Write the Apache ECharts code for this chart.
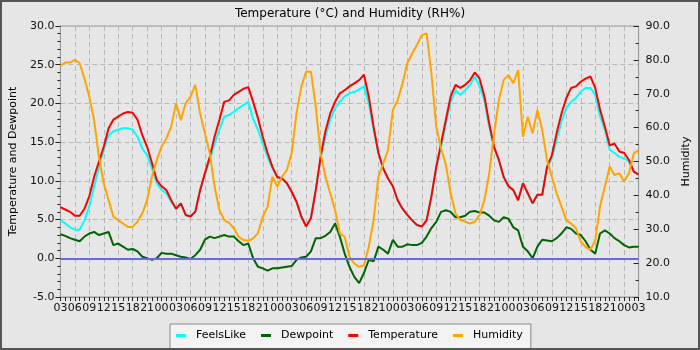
<!DOCTYPE html>
<html>
<head>
<meta charset="utf-8">
<script src="https://cdn.jsdelivr.net/npm/echarts@6/dist/echarts.min.js"></script>
<style>
html,body{margin:0;padding:0;background:#e6e6e6;}
#c{width:700px;height:350px;}
</style>
</head>
<body>
<div id="c"></div>
<script>
// hours since start (03:00 on day 1), hourly samples
const hours = Array.from({length: 121}, (_, i) => i);

const xLabels = ['03','06','09','12','15','18','21','00',
  '03','06','09','12','15','18','21','00',
  '03','06','09','12','15','18','21','00',
  '03','06','09','12','15','18','21','00',
  '03','06','09','12','15','18','21','00','03'];

const temperature = [
  6.6, 6.3, 6.0, 5.5, 5.5, 6.4, 8.0, 10.5, 12.5, 14.4, 16.8,
  17.9, 18.3, 18.7, 18.9, 18.8, 17.9, 15.9, 14.4, 12.3, 10.1,
  9.3, 8.8, 7.5, 6.4, 7.1, 5.6, 5.4, 6.0, 8.8, 11.0,
  13.1, 15.7, 17.9, 20.2, 20.4, 21.1, 21.5, 21.9, 22.1, 20.2,
  18.1, 15.7, 13.6, 11.8, 10.5, 10.3, 9.7, 8.6, 7.3, 5.4,
  4.1, 5.2, 8.8, 13.1, 16.4, 18.7, 20.2, 21.3, 21.7, 22.2,
  22.6, 23.0, 23.7, 20.9, 17.0, 13.6, 11.6, 10.3, 9.3, 7.5,
  6.4, 5.6, 4.9, 4.3, 4.1, 4.9, 8.0, 11.8, 14.8, 17.9,
  20.9, 22.4, 22.0, 22.4, 23.0, 24.0, 23.2, 20.9, 17.4, 14.4,
  12.7, 10.5, 9.3, 8.8, 7.5, 9.7, 8.4, 7.1, 8.2, 8.2,
  11.8, 13.3, 16.2, 18.7, 20.7, 22.0, 22.2, 22.8, 23.2, 23.5,
  22.0, 19.2, 17.0, 14.6, 14.8, 13.8, 13.6, 12.7, 11.2, 10.8
];

const feelsLike = [
  4.9, 4.5, 4.0, 3.7, 3.7, 4.9, 6.7, 9.3, 11.8, 14.0, 15.9,
  16.4, 16.6, 16.8, 16.8, 16.6, 15.7, 14.2, 13.3, 11.6, 9.7,
  8.8, 8.4, 7.3, 6.4, 7.1, 5.6, 5.4, 6.0, 8.8, 10.8,
  12.7, 14.8, 16.6, 18.3, 18.5, 18.9, 19.4, 19.8, 20.2, 18.0,
  16.6, 14.8, 13.1, 11.6, 10.5, 10.3, 9.7, 8.6, 7.3, 5.4,
  4.1, 5.2, 8.8, 12.9, 15.7, 17.9, 19.4, 20.2, 20.9, 21.3,
  21.5, 21.8, 22.2, 20.0, 16.6, 13.6, 11.6, 10.3, 9.3, 7.5,
  6.4, 5.6, 4.9, 4.3, 4.1, 4.9, 8.0, 11.5, 14.4, 17.4,
  20.2, 21.7, 21.1, 21.7, 22.4, 23.5, 22.2, 20.4, 17.0, 14.2,
  12.7, 10.5, 9.3, 8.8, 7.5, 9.7, 8.4, 7.1, 8.2, 8.2,
  11.8, 12.9, 15.3, 17.7, 19.4, 20.2, 20.7, 21.5, 22.0, 22.0,
  21.1, 18.3, 16.6, 14.0, 13.6, 13.1, 12.9, 12.5, 11.2, 10.8
];

const dewpoint = [
  3.1, 2.9, 2.6, 2.4, 2.2, 2.8, 3.2, 3.4, 3.0, 3.2, 3.4,
  1.7, 1.9, 1.5, 1.1, 1.2, 0.9, 0.2, 0.0, -0.2, 0.0,
  0.7, 0.6, 0.6, 0.4, 0.2, 0.1, -0.1, 0.4, 1.1, 2.4,
  2.8, 2.6, 2.8, 3.0, 2.8, 2.8, 2.2, 1.7, 1.9, 0.0,
  -1.1, -1.3, -1.6, -1.3, -1.3, -1.2, -1.1, -1.0, -0.2, 0.1,
  0.2, 0.9, 2.6, 2.6, 2.9, 3.4, 4.5, 2.8, 0.6, -1.1,
  -2.4, -3.2, -1.9, -0.2, -0.4, 1.5, 1.1, 0.6, 2.4, 1.5,
  1.5, 1.8, 1.7, 1.7, 2.0, 2.8, 3.9, 4.7, 6.0, 6.2,
  6.0, 5.3, 5.3, 5.5, 6.0, 6.1, 5.9, 5.9, 5.5, 4.9,
  4.7, 5.3, 5.1, 4.0, 3.6, 1.5, 0.9, 0.0, 1.5, 2.4,
  2.3, 2.2, 2.6, 3.2, 4.0, 3.8, 3.2, 3.0, 2.2, 1.1,
  0.6, 3.2, 3.6, 3.2, 2.6, 2.2, 1.7, 1.4, 1.5, 1.5
];

const humidity = [
  78.2, 79.2, 79.2, 80.0, 79.0, 74.5, 69.1, 62.2, 51.4, 43.5, 38.6,
  33.7, 32.7, 31.7, 30.7, 30.7, 32.2, 34.7, 38.6, 45.5, 50.4,
  54.4, 56.8, 60.3, 67.2, 62.2, 67.2, 69.1, 72.6, 64.2, 58.3,
  52.4, 42.6, 35.7, 32.7, 31.9, 30.3, 27.8, 26.8, 26.6, 27.3,
  28.8, 33.7, 36.7, 45.5, 42.6, 45.5, 47.5, 52.4, 64.2, 72.1,
  76.5, 76.5, 66.2, 52.4, 45.5, 40.6, 35.7, 28.8, 27.8, 21.9,
  19.9, 18.9, 19.4, 24.8, 32.7, 45.5, 49.4, 53.4, 65.2, 68.1,
  73.1, 79.0, 81.9, 84.4, 87.3, 87.8, 76.0, 60.3, 53.9, 49.0,
  40.6, 34.7, 32.7, 32.2, 31.7, 32.2, 34.2, 38.6, 46.5, 58.3,
  68.1, 74.1, 75.5, 73.1, 77.0, 57.3, 63.2, 58.3, 65.2, 59.3,
  50.4, 45.5, 40.6, 36.7, 32.7, 31.7, 30.3, 26.3, 24.8, 23.9,
  26.8, 36.7, 42.6, 48.5, 46.0, 46.5, 44.0, 46.5, 52.4, 53.4
];

const seriesNames = ['FeelsLike', 'Dewpoint', 'Temperature', 'Humidity'];
const seriesColors = ['#00ffff', '#006400', '#ff0000', '#ffa500'];

const FONT = 'DejaVu Sans';
const pair = arr => hours.map((h, i) => [h, arr[i]]);

const chart = echarts.init(document.getElementById('c'), null, {renderer: 'canvas'});

const gridLine = {show: true, lineStyle: {color: '#b8b8b8', type: [5, 3], width: 1}};

const option = {
  animation: false,
  backgroundColor: '#e6e6e6',
  title: {
    text: 'Temperature (°C) and Humidity (RH%)',
    left: 'center', top: 3,
    textStyle: {fontFamily: FONT, fontSize: 12, fontWeight: 'normal', color: '#000'}
  },
  legend: {
    data: seriesNames,
    left: 170, top: 324,
    orient: 'horizontal',
    icon: 'rect', itemWidth: 10, itemHeight: 3, itemGap: 15,
    backgroundColor: '#f3f3f3', borderColor: '#8a8a8a', borderWidth: 1,
    borderRadius: 0,
    padding: [6, 8, 8, 6],
    textStyle: {fontFamily: FONT, fontSize: 11, color: '#000', padding: [0, 0, 0, 5]}
  },
  grid: {left: 55, right: 60, top: 26, bottom: 53, show: true,
         borderColor: '#999', borderWidth: 1, backgroundColor: 'transparent'},
  xAxis: {
    type: 'value', min: 0, max: 120, interval: 3,
    axisLine: {show: true, onZero: false, lineStyle: {color: '#999'}},
    axisTick: {show: true, length: 4, lineStyle: {color: '#222'}},
    minorTick: {show: true, splitNumber: 3, length: 4, lineStyle: {color: '#222'}},
    axisLabel: {fontFamily: FONT, fontSize: 11, color: '#111', margin: 6, hideOverlap: false,
      showMinLabel: true, showMaxLabel: true,
      formatter: v => xLabels[Math.round(v / 3)]},
    splitLine: gridLine
  },
  yAxis: [
    {
      type: 'value', min: -5, max: 30, interval: 5, position: 'left',
      name: 'Temperature and Dewpoint', nameLocation: 'middle', nameGap: 36, nameRotate: 90,
      nameTextStyle: {fontFamily: FONT, fontSize: 11, color: '#000'},
      axisLine: {show: true, lineStyle: {color: '#999'}},
      axisTick: {show: true, length: 5, lineStyle: {color: '#222'}},
      minorTick: {show: true, splitNumber: 5, length: 3, lineStyle: {color: '#222'}},
      axisLabel: {fontFamily: FONT, fontSize: 11, color: '#111', margin: 6,
        formatter: v => v.toFixed(1)},
      splitLine: gridLine
    },
    {
      type: 'value', min: 10, max: 90, interval: 10, position: 'right',
      name: 'Humidity', nameLocation: 'middle', nameGap: 35, nameRotate: 90,
      nameTextStyle: {fontFamily: FONT, fontSize: 11, color: '#000'},
      axisLine: {show: true, lineStyle: {color: '#999'}},
      axisTick: {show: true, inside: true, length: 5, lineStyle: {color: '#222'}},
      minorTick: {show: true, splitNumber: 2, length: 3, lineStyle: {color: '#222'}},
      axisLabel: {fontFamily: FONT, fontSize: 11, color: '#111', margin: 7,
        formatter: v => v.toFixed(1)},
      splitLine: {show: false}
    }
  ],
  series: [
    {name: seriesNames[0], type: 'line', yAxisIndex: 0, data: pair(feelsLike),
     showSymbol: false, color: seriesColors[0], lineStyle: {width: 2},
     markLine: {silent: true, symbol: 'none', label: {show: false},
       lineStyle: {color: '#6a6ae0', width: 2, type: 'solid'},
       data: [{yAxis: 0}]}},
    {name: seriesNames[1], type: 'line', yAxisIndex: 0, data: pair(dewpoint),
     showSymbol: false, color: seriesColors[1], lineStyle: {width: 2}},
    {name: seriesNames[2], type: 'line', yAxisIndex: 0, data: pair(temperature),
     showSymbol: false, color: seriesColors[2], lineStyle: {width: 2}},
    {name: seriesNames[3], type: 'line', yAxisIndex: 1, data: pair(humidity),
     showSymbol: false, color: seriesColors[3], lineStyle: {width: 2}}
  ],
  graphic: [{
    type: 'rect', z: 100, silent: true,
    shape: {x: 1, y: 1, width: 698, height: 348},
    style: {fill: 'none', stroke: '#555', lineWidth: 2}
  }]
};
chart.setOption(option);
</script>
</body>
</html>
